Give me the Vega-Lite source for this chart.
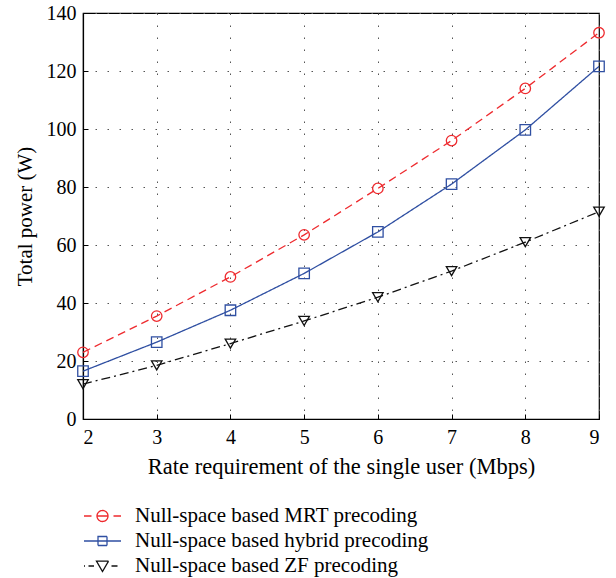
{
  "$schema": "https://vega.github.io/schema/vega-lite/v6.json",
  "width": 516,
  "height": 406,
  "autosize": {"type": "none"},
  "padding": {"left": 83, "top": 13, "right": 17, "bottom": 159},
  "background": "white",
  "config": {
    "font": "Liberation Serif",
    "view": {"stroke": "black", "strokeWidth": 1.2},
    "axis": {
      "labelFont": "Liberation Serif",
      "titleFont": "Liberation Serif",
      "titleFontWeight": "normal",
      "labelColor": "black",
      "titleColor": "black",
      "domainColor": "black",
      "domainWidth": 1.2,
      "ticks": true,
      "tickSize": -5,
      "tickColor": "black",
      "tickWidth": 1,
      "grid": true,
      "gridColor": "#555555",
      "gridDash": [1.5, 10.5],
      "gridWidth": 1
    },
    "legend": {
      "labelFont": "Liberation Serif",
      "labelFontSize": 21,
      "labelColor": "black",
      "labelLimit": 500
    }
  },
  "resolve": {"legend": {"color": "independent"}},
  "data": {
    "values": [
      {"rate": 2, "power": 23, "scheme": "Null-space based MRT precoding"},
      {"rate": 3, "power": 35.5, "scheme": "Null-space based MRT precoding"},
      {"rate": 4, "power": 49, "scheme": "Null-space based MRT precoding"},
      {"rate": 5, "power": 63.5, "scheme": "Null-space based MRT precoding"},
      {"rate": 6, "power": 79.5, "scheme": "Null-space based MRT precoding"},
      {"rate": 7, "power": 96, "scheme": "Null-space based MRT precoding"},
      {"rate": 8, "power": 114, "scheme": "Null-space based MRT precoding"},
      {"rate": 9, "power": 133.2, "scheme": "Null-space based MRT precoding"},
      {"rate": 2, "power": 16.5, "scheme": "Null-space based hybrid precoding"},
      {"rate": 3, "power": 26.5, "scheme": "Null-space based hybrid precoding"},
      {"rate": 4, "power": 37.5, "scheme": "Null-space based hybrid precoding"},
      {"rate": 5, "power": 50.2, "scheme": "Null-space based hybrid precoding"},
      {"rate": 6, "power": 64.5, "scheme": "Null-space based hybrid precoding"},
      {"rate": 7, "power": 81, "scheme": "Null-space based hybrid precoding"},
      {"rate": 8, "power": 99.7, "scheme": "Null-space based hybrid precoding"},
      {"rate": 9, "power": 121.6, "scheme": "Null-space based hybrid precoding"},
      {"rate": 2, "power": 12, "scheme": "Null-space based ZF precoding"},
      {"rate": 3, "power": 18.5, "scheme": "Null-space based ZF precoding"},
      {"rate": 4, "power": 26, "scheme": "Null-space based ZF precoding"},
      {"rate": 5, "power": 33.8, "scheme": "Null-space based ZF precoding"},
      {"rate": 6, "power": 42, "scheme": "Null-space based ZF precoding"},
      {"rate": 7, "power": 51, "scheme": "Null-space based ZF precoding"},
      {"rate": 8, "power": 61, "scheme": "Null-space based ZF precoding"},
      {"rate": 9, "power": 71.5, "scheme": "Null-space based ZF precoding"}
    ]
  },
  "encoding": {
    "x": {
      "field": "rate", "type": "quantitative",
      "scale": {"domain": [2, 9], "nice": false, "zero": false},
      "axis": {"title": "Rate requirement of the single user (Mbps)", "values": [2,3,4,5,6,7,8,9], "labelOverlap": false, "labelFontSize": 20, "titleFontSize": 22.5, "labelPadding": 13, "titlePadding": 8}
    },
    "y": {
      "field": "power", "type": "quantitative",
      "scale": {"domain": [0, 140], "nice": false},
      "axis": {"title": "Total power (W)", "values": [0,20,40,60,80,100,120,140], "labelOverlap": false, "labelFontSize": 20, "titleFontSize": 21, "labelPadding": 12, "titlePadding": 11}
    }
  },
  "layer": [
    {
      "mark": {"type": "line", "strokeWidth": 1.3},
      "encoding": {
        "color": {
          "field": "scheme", "type": "nominal",
          "scale": {"domain": ["Null-space based MRT precoding", "Null-space based hybrid precoding", "Null-space based ZF precoding"], "range": ["#ee2a2e", "#2f4fa2", "#111111"]},
          "legend": {
            "title": null,
            "orient": "none",
            "legendX": 8.5,
            "legendY": 492,
            "direction": "vertical",
            "symbolSize": 400,
            "symbolStrokeWidth": 1.3,
            "labelOffset": 21.5,
            "rowPadding": 4,
            "encode": {
              "symbols": {
                "update": {
                  "fill": {"value": "transparent"},
                  "strokeDash": {"value": [1, 0]},
                  "shape": {"signal": "datum.value === 'Null-space based MRT precoding' ? 'M-1.85,0H-1.1M-0.55,0A0.55,0.55 0 1,1 0.55,0A0.55,0.55 0 1,1 -0.55,0ZM-0.55,0H0.55M1.1,0H1.85' : datum.value === 'Null-space based hybrid precoding' ? 'M-1.85,0H1.85M-0.45,-0.45H0.45V0.45H-0.45Z' : 'M-1.85,0H-1.75M-1.4,0H-0.85M-0.6,-0.48L0.6,-0.48L0,0.55ZM0.9,0H1.5'"}
                }
              }
            }
          }
        },
        "strokeDash": {
          "field": "scheme", "type": "nominal",
          "scale": {"domain": ["Null-space based MRT precoding", "Null-space based hybrid precoding", "Null-space based ZF precoding"], "range": [[8, 5], [1, 0], [9, 4, 2, 4]]},
          "legend": null
        }
      }
    },
    {
      "mark": {"type": "point", "filled": false, "strokeWidth": 1.3, "opacity": 1},
      "encoding": {
        "color": {"field": "scheme", "type": "nominal", "legend": null},
        "shape": {
          "field": "scheme", "type": "nominal",
          "scale": {"domain": ["Null-space based MRT precoding", "Null-space based hybrid precoding", "Null-space based ZF precoding"], "range": ["circle", "square", "triangle-down"]},
          "legend": null
        },
        "size": {"value": 110}
      }
    }
  ]
}
